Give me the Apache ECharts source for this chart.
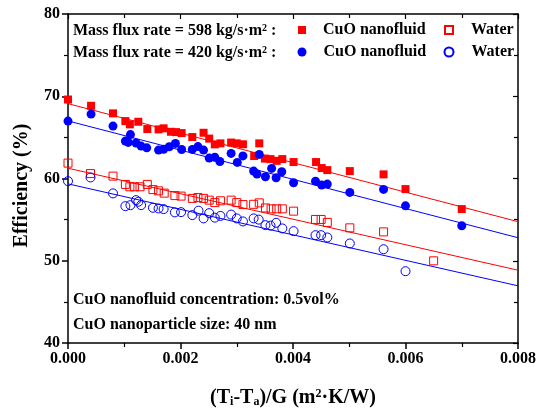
<!DOCTYPE html>
<html>
<head>
<meta charset="utf-8">
<script src="https://cdn.jsdelivr.net/npm/echarts@6/dist/echarts.min.js"></script>
<style>
html,body{margin:0;padding:0;background:#fff;}
#chart{width:539px;height:415px;}
</style>
</head>
<body>
<div id="chart"></div>
<script>
// X values (m²·K/W) and efficiencies (%)
const xCuO598 = [0,0.00041,0.0008,0.00102,0.0011,0.00125,0.00141,0.00161,0.0017,0.00183,0.00192,0.00202,0.00221,0.00241,0.00251,0.00261,0.00271,0.0029,0.003,0.00311,0.00331,0.0034,0.0035,0.0036,0.00371,0.00381,0.00401,0.00441,0.00451,0.00461,0.00501,0.00561,0.006,0.007];
const yCuO598 = [69.6,68.84,67.92,66.98,66.58,66.9,66.01,65.97,66.1,65.68,65.64,65.52,65.04,65.56,64.85,64.15,64.27,64.37,64.27,64.16,62.73,64.27,62.42,62.36,62.15,62.36,62.0,62.0,61.27,61.02,60.9,60.5,58.71,56.28];

const xWater598 = [0,0.0004,0.0008,0.00102,0.0011,0.00118,0.00128,0.00141,0.00151,0.00161,0.00171,0.0019,0.00201,0.00221,0.00231,0.00241,0.00251,0.00261,0.00271,0.0029,0.003,0.00311,0.0033,0.0034,0.00351,0.00361,0.00371,0.00381,0.00401,0.0044,0.0045,0.00461,0.00501,0.00561,0.0065];
const yWater598 = [61.87,60.6,60.29,59.28,58.99,58.99,58.99,59.28,58.65,58.5,58.22,57.92,57.86,57.58,57.68,57.58,57.37,57.07,57.29,57.37,57.07,56.83,56.86,57.04,56.42,56.31,56.31,56.31,56.03,55.02,55.02,54.66,54.0,53.51,49.99];

const xCuO420 = [0,0.00041,0.0008,0.00102,0.00107,0.00111,0.00121,0.0013,0.0014,0.00161,0.0017,0.0018,0.00191,0.00202,0.00221,0.00231,0.00241,0.00251,0.00261,0.0027,0.0029,0.00301,0.00311,0.0033,0.00336,0.0034,0.00351,0.00362,0.0037,0.0038,0.00401,0.0044,0.00451,0.00461,0.00501,0.00561,0.006,0.007];
const yCuO420 = [66.98,67.83,66.37,64.55,64.39,65.34,64.31,63.94,63.73,63.45,63.55,63.86,64.27,63.52,63.54,63.88,63.45,62.48,62.58,62.06,63.05,61.96,62.75,60.9,60.54,62.93,60.21,61.23,60.09,60.82,59.48,59.68,59.2,59.32,58.31,58.67,56.68,54.25];

const xWater420 = [0,0.0004,0.0008,0.00102,0.00111,0.00121,0.00125,0.0013,0.00151,0.00161,0.0017,0.0019,0.00201,0.00221,0.00232,0.00241,0.00251,0.00261,0.00271,0.0029,0.003,0.00311,0.0033,0.00339,0.00351,0.0036,0.0037,0.00381,0.00401,0.0044,0.0045,0.00461,0.00501,0.00561,0.006];
const yWater420 = [59.68,60.13,58.19,56.64,56.76,57.37,57.17,56.76,56.44,56.36,56.28,55.88,55.91,55.55,56.09,55.15,55.79,55.24,55.45,55.61,55.15,54.78,55.15,55.0,54.33,54.27,54.61,53.93,53.6,53.11,53.11,52.83,52.1,51.4,48.73];

// Fitted lines (endpoints read at x = 0 and x = 0.008)
const fitX = [0, 0.008];
const fitCuO598 = [69.1, 54.75];
const fitCuO420 = [67.0, 52.8];
const fitWater598 = [61.25, 48.85];
const fitWater420 = [59.35, 46.95];

const xTicks = [0, 0.002, 0.004, 0.006, 0.008];
const yTicks = [40, 50, 60, 70, 80];

const FONT = 'Liberation Serif';
const RED = '#ff0000', BLUE = '#0000ff';

function pairs(xs, ys){ return xs.map((x,i)=>[x, ys[i]]); }

const chart = echarts.init(document.getElementById('chart'), null, {renderer:'canvas'});

const axisBase = {
  min: xTicks[0], max: xTicks[xTicks.length-1], interval: xTicks[1]-xTicks[0]
};
const yBase = {
  min: yTicks[0], max: yTicks[yTicks.length-1], interval: yTicks[1]-yTicks[0]
};
const lineStyleAxis = {color:'#000', width:1.5};

function scatter(name, xs, ys, symbol, size, color, filled){
  return {
    name, type:'scatter', data:pairs(xs,ys), symbol, symbolSize:size, z:5,
    itemStyle: filled ? {color:color, opacity:1} : {color:'rgba(255,255,255,0)', borderColor:color, borderWidth:1, opacity:1},
    emphasis:{disabled:true}
  };
}
function fit(ys, color){
  return {
    type:'line', data:pairs(fitX, ys), showSymbol:false, symbol:'none', z:3,
    lineStyle:{color:color, width:1}, silent:true
  };
}

function legendItem(name, cx, cy, size, textGap){
  return {data:[name], left:cx - size/2, top:cy - 6, padding:0, itemWidth:size, itemHeight:size, itemGap:0,
    symbolKeepAspect:true, selectedMode:false,
    textStyle:{fontFamily:FONT, fontWeight:'bold', fontSize:16, color:'#000', padding:[0,0,0,textGap]},
    formatter: n => n.replace(/ (598|420)$/, '')};
}

const rich = {
  sup:{fontFamily:FONT, fontWeight:'bold', fontSize:10, verticalAlign:'top', color:'#000'}
};

const option = {
  animation:false,
  backgroundColor:'#fff',
  textStyle:{fontFamily:FONT},
  grid:{left:68, right:18, top:14, bottom:72, containLabel:false},
  legend:[
    legendItem('CuO nanofluid 598', 302, 28, 8, 12),
    legendItem('Water 598', 448, 28, 8, 13),
    legendItem('CuO nanofluid 420', 302, 50, 9, 12),
    legendItem('Water 420', 448, 50, 9, 13)
  ],
  graphic:[
    {type:'text', left:73, top:23, style:{text:'Mass flux rate = 598 kg/s·m{sup|2} :', rich, font:'bold 16px "Liberation Serif"', fill:'#000'}},
    {type:'text', left:73, top:45, style:{text:'Mass flux rate = 420 kg/s·m{sup|2} :', rich, font:'bold 16px "Liberation Serif"', fill:'#000'}},
    {type:'text', left:73, top:292, style:{text:'CuO nanofluid concentration: 0.5vol%', font:'bold 16px "Liberation Serif"', fill:'#000'}},
    {type:'text', left:73, top:317, style:{text:'CuO nanoparticle size: 40 nm', font:'bold 16px "Liberation Serif"', fill:'#000'}}
  ],
  xAxis:[
    Object.assign({type:'value', position:'bottom',
      name:'(T{sub|i}-T{sub|a})/G (m{sup|2}·K/W)', nameLocation:'middle', nameGap:45,
      nameTextStyle:{fontFamily:FONT, fontWeight:'bold', fontSize:20, color:'#000', rich:{
        sup:{fontFamily:FONT, fontWeight:'bold', fontSize:12, verticalAlign:'top', color:'#000'},
        sub:{fontFamily:FONT, fontWeight:'bold', fontSize:12, verticalAlign:'bottom', color:'#000'}}},
      axisLine:{show:true, onZero:false, lineStyle:lineStyleAxis},
      axisTick:{show:true, inside:false, length:6, lineStyle:{color:'#000', width:1.5}},
      minorTick:{show:true, splitNumber:2, length:4, lineStyle:{color:'#000', width:1.2}},
      axisLabel:{fontFamily:FONT, fontWeight:'bold', fontSize:16, color:'#000', margin:8, formatter:v=>v.toFixed(3)},
      splitLine:{show:false}
    }, axisBase),
    Object.assign({type:'value', position:'top',
      axisLine:{show:true, onZero:false, lineStyle:lineStyleAxis},
      axisTick:{show:true, inside:true, length:5, lineStyle:{color:'#000', width:1.2}},
      minorTick:{show:true, splitNumber:2, length:4, lineStyle:{color:'#000', width:1.2}},
      axisLabel:{show:false}, splitLine:{show:false}
    }, axisBase)
  ],
  yAxis:[
    Object.assign({type:'value', position:'left',
      name:'Efficiency (%)', nameLocation:'middle', nameGap:36, nameRotate:90,
      nameTextStyle:{fontFamily:FONT, fontWeight:'bold', fontSize:20, color:'#000', padding:[0,14,0,0]},
      axisLine:{show:true, onZero:false, lineStyle:lineStyleAxis},
      axisTick:{show:true, inside:false, length:6, lineStyle:{color:'#000', width:1.5}},
      minorTick:{show:true, splitNumber:2, length:4, lineStyle:{color:'#000', width:1.2}},
      axisLabel:{fontFamily:FONT, fontWeight:'bold', fontSize:16, color:'#000', margin:8},
      splitLine:{show:false}
    }, yBase),
    Object.assign({type:'value', position:'right',
      axisLine:{show:true, onZero:false, lineStyle:lineStyleAxis},
      axisTick:{show:true, inside:true, length:5, lineStyle:{color:'#000', width:1.2}},
      minorTick:{show:true, splitNumber:2, length:4, lineStyle:{color:'#000', width:1.2}},
      axisLabel:{show:false}, splitLine:{show:false}
    }, yBase)
  ],
  series:[
    fit(fitCuO598, RED), fit(fitCuO420, BLUE), fit(fitWater598, RED), fit(fitWater420, BLUE),
    scatter('CuO nanofluid 598', xCuO598, yCuO598, 'rect', 8, RED, true),
    scatter('Water 598', xWater598, yWater598, 'rect', 8, RED, false),
    scatter('CuO nanofluid 420', xCuO420, yCuO420, 'circle', 9, BLUE, true),
    scatter('Water 420', xWater420, yWater420, 'circle', 9, BLUE, false)
  ]
};
chart.setOption(option);
</script>
</body>
</html>
